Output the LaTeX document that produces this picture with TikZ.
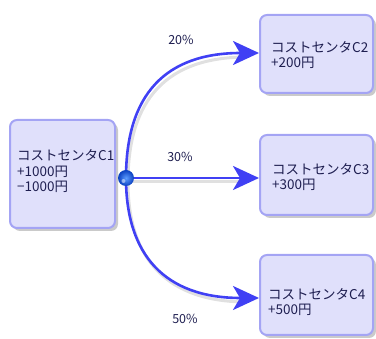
\documentclass[tikz,border=0pt]{standalone}
\usepackage{fontspec}
\setmainfont{Noto Sans CJK JP}
\usetikzlibrary{arrows.meta,shadows}
\definecolor{boxfill}{HTML}{E0E0FB}
\definecolor{boxline}{HTML}{A4A4F4}
\definecolor{txt}{HTML}{1E1E50}
\definecolor{arr}{HTML}{4040F4}
\definecolor{ballin}{HTML}{5C9CFF}
\definecolor{ballout}{HTML}{0A40C0}
\tikzset{
  cbox/.style={draw=boxline, line width=2pt, fill=boxfill, rounded corners=7pt,
    drop shadow={shadow xshift=3pt, shadow yshift=-3pt, opacity=0.35, fill=black!60}},
  ctext/.style={text=txt, font=\fontsize{13.5}{15.5}\selectfont, align=left, anchor=base west, inner sep=0pt},
  conn/.style={draw=arr, line width=2.6pt, -{Stealth[length=26pt,width=24pt,inset=7pt]}},
  plabel/.style={text=txt, font=\fontsize{12.5}{13}\selectfont, inner sep=0pt}
}
\begin{document}
\begin{tikzpicture}[x=1pt,y=-1pt]
\useasboundingbox (0,0) rectangle (376,339);
% boxes
\draw[cbox] (10,120) rectangle (115,228);
\draw[cbox] (260,15) rectangle (373,93);
\draw[cbox] (260,135) rectangle (373,215);
\draw[cbox] (260,255) rectangle (373,335);
% text nodes (anchor = baseline of last line)
\node[ctext] (c1) at (17,192) {コストセンタC1\\+1000円\\−1000円};
\node[ctext] (c2) at (271,68) {コストセンタC2\\+200円};
\node[ctext] (c3) at (272,190) {コストセンタC3\\+300円};
\node[ctext] (c4) at (268,315) {コストセンタC4\\+500円};
% anchors
\coordinate (o) at (126,178);
\coordinate (t2) at (259,53);
\coordinate (t3) at (259,178);
\coordinate (t4) at (259,298);
% connector shadows
\begin{scope}[transform canvas={shift={(2pt,-4pt)}}]
\draw[line width=3pt, draw=black, opacity=0.12] (o) .. controls (126,95) and (165,53) .. (245,53);
\draw[line width=3pt, draw=black, opacity=0.12] (o) -- (245,178);
\draw[line width=3pt, draw=black, opacity=0.12] (o) .. controls (126,255) and (165,298) .. (245,298);
\end{scope}
\draw[conn] (o) .. controls (126,95) and (165,53) .. (t2);
\draw[conn] (o) -- (t3);
\draw[conn] (o) .. controls (126,255) and (165,298) .. (t4);
\shade[inner color=ballin, outer color=ballout] (o) circle (8pt);
\fill[white, opacity=0.5] ([shift={(-2.5pt,-3pt)}]o) circle (2pt);
\node[plabel] (p20) at (181,40) {20\%};
\node[plabel] (p30) at (180,157) {30\%};
\node[plabel] (p50) at (185,319) {50\%};
\end{tikzpicture}
\end{document}
